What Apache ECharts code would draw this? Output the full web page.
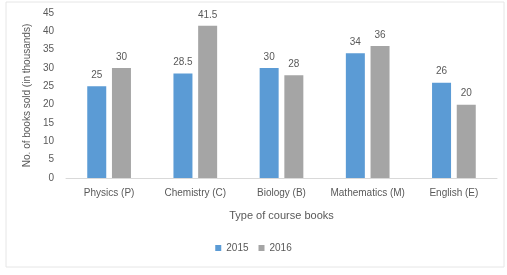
<!DOCTYPE html>
<html>
<head>
<meta charset="utf-8">
<script src="https://cdn.jsdelivr.net/npm/echarts@6/dist/echarts.min.js"></script>
<style>
	html, body { margin: 0; padding: 0; background: #fff; }
	#chart { width: 507px; height: 275px; }
</style>
</head>
<body>
<div id="chart"></div>
<script>
var categories = ['Physics (P)', 'Chemistry (C)', 'Biology (B)', 'Mathematics (M)', 'English (E)'];
var sales2015 = [25, 28.5, 30, 34, 26];
var sales2016 = [30, 41.5, 28, 36, 20];
var seriesNames = ['2015', '2016'];

var chart = echarts.init(document.getElementById('chart'));
var txt = '#595959';
var fnt = 'Liberation Sans';

var option = {
	animation : false,
	textStyle : { fontFamily : fnt },
	graphic : [ {
		type : 'rect',
		shape : { x : 6, y : 2, width : 498, height : 265 },
		style : { fill : 'none', stroke : '#e6e6e6', lineWidth : 1 }
	} ],
	grid : {
		left : 66,
		right : 10,
		top : 13,
		bottom : 97
	},
	legend : {
		data : seriesNames,
		bottom : 17,
		left : 'center',
		itemWidth : 6,
		itemHeight : 6,
		itemGap : 10,
		icon : 'rect',
		textStyle : { color : txt, fontSize : 10, fontFamily : fnt }
	},
	xAxis : {
		type : 'category',
		data : categories,
		name : 'Type of course books',
		nameLocation : 'middle',
		nameGap : 32,
		nameTextStyle : { color : txt, fontSize : 11, fontFamily : fnt },
		axisLine : { lineStyle : { color : '#d9d9d9' } },
		axisTick : { show : false },
		axisLabel : { color : txt, fontSize : 10, margin : 10, interval : 0, fontFamily : fnt }
	},
	yAxis : {
		type : 'value',
		min : 0,
		max : 45,
		interval : 5,
		name : 'No. of books sold (in thousands)',
		nameLocation : 'middle',
		nameGap : 27,
		nameTextStyle : { color : txt, fontSize : 10, fontFamily : fnt },
		splitLine : { show : false },
		axisLine : { show : false },
		axisTick : { show : false },
		axisLabel : { color : txt, fontSize : 10, margin : 12, fontFamily : fnt }
	},
	series : [ {
		name : seriesNames[0],
		type : 'bar',
		data : sales2015,
		barWidth : 19,
		barGap : '30%',
		itemStyle : { color : '#5b9bd5' },
		label : { show : true, position : 'top', color : txt, fontSize : 10, distance : 6 }
	}, {
		name : seriesNames[1],
		type : 'bar',
		data : sales2016,
		barWidth : 19,
		barGap : '30%',
		itemStyle : { color : '#a5a5a5' },
		label : { show : true, position : 'top', color : txt, fontSize : 10, distance : 6 }
	} ]
};
chart.setOption(option);
</script>
</body>
</html>
